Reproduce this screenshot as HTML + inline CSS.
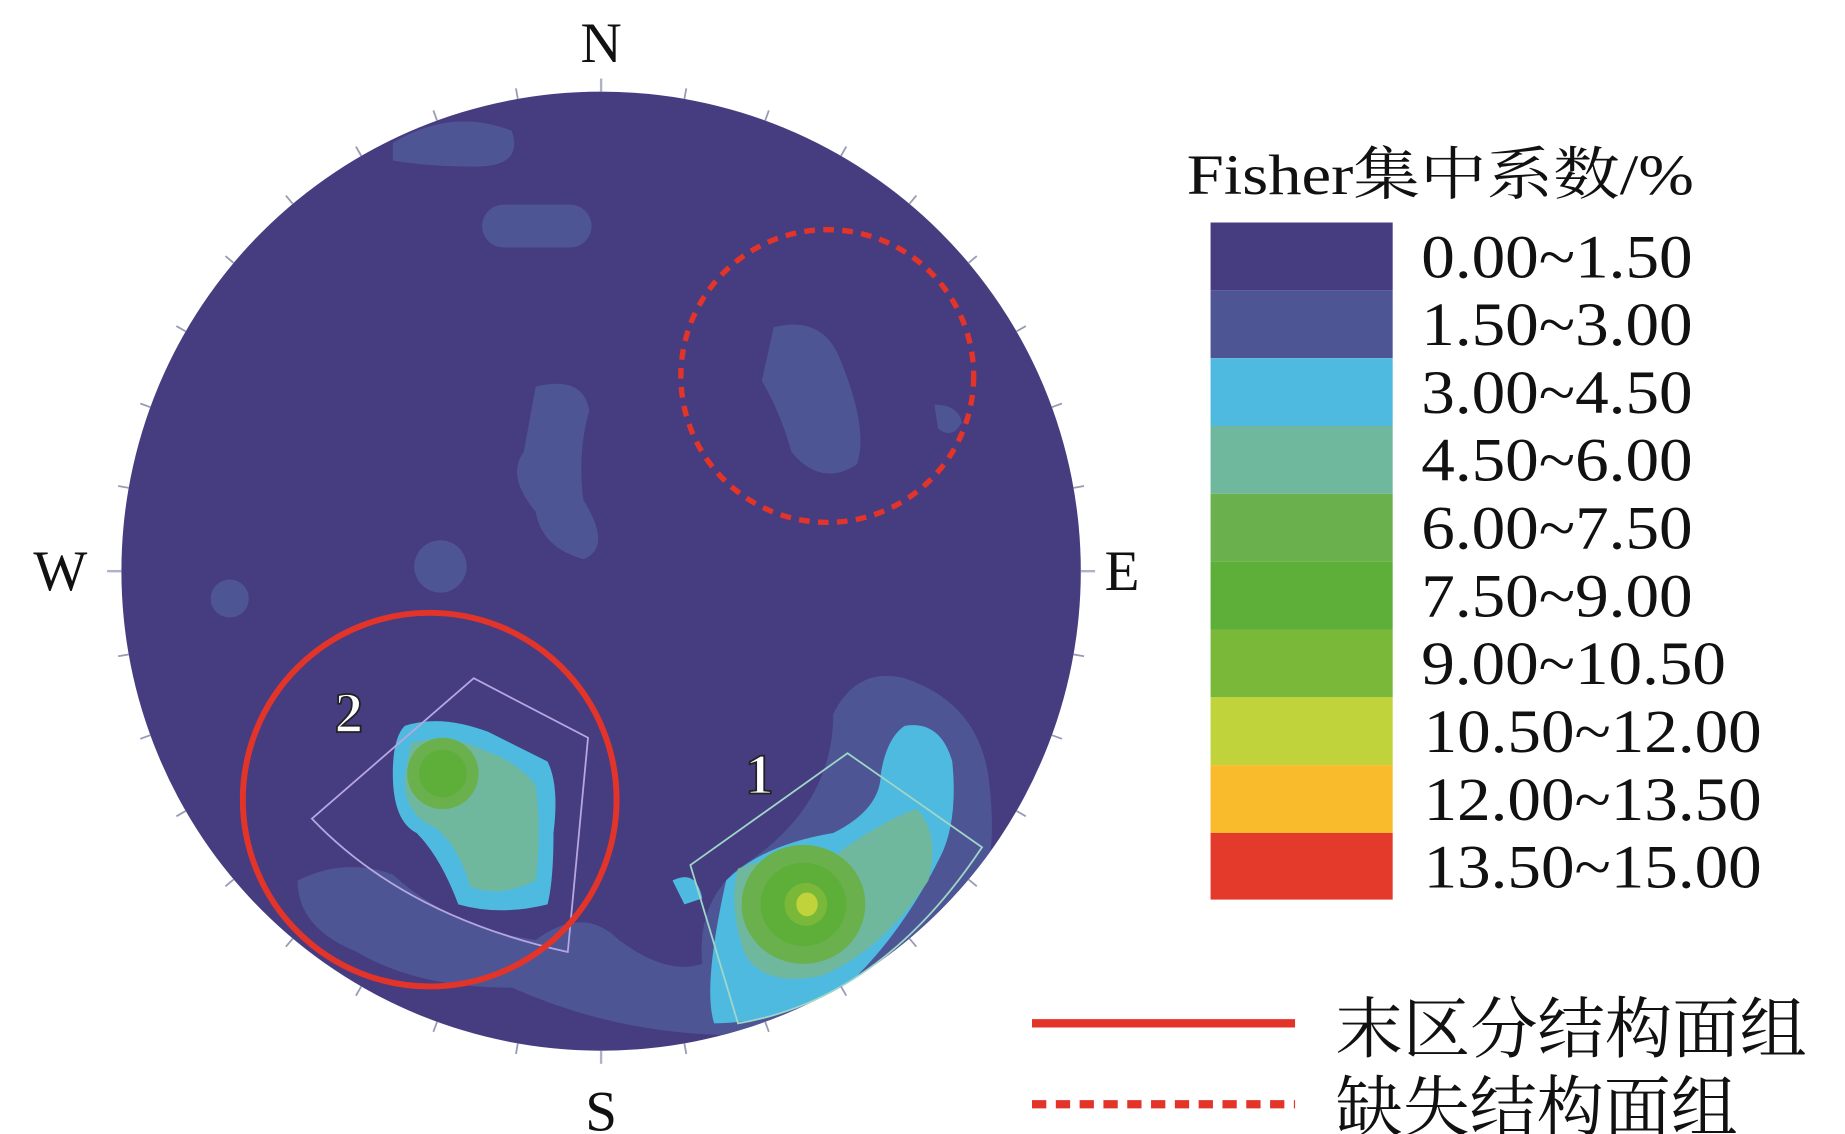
<!DOCTYPE html>
<html><head><meta charset="utf-8"><style>html,body{margin:0;padding:0;background:#fff}svg{display:block}</style></head>
<body>
<svg width="1845" height="1134" viewBox="0 0 1550 953" preserveAspectRatio="none" xmlns="http://www.w3.org/2000/svg" font-family="Liberation Serif, Noto Serif CJK SC, serif">
<rect width="1550" height="953" fill="#fff"/>
<defs><clipPath id="c"><circle cx="505" cy="480" r="403"/></clipPath></defs>
<circle cx="505" cy="480" r="403" fill="#463c80"/>
<g clip-path="url(#c)" fill="#4e5595">
<path d="M330 120 Q380 90 430 110 Q440 140 400 140 Q360 140 330 135Z"/>
<rect x="405" y="172" width="92" height="36" rx="18"/>
<path d="M450 325 Q490 315 495 345 Q485 380 490 420 Q515 460 490 470 Q455 460 450 430 Q425 400 440 380Z"/>
<path d="M650 275 Q690 265 705 300 Q730 360 720 390 Q690 410 665 380 Q655 345 640 320Z"/>
<path d="M785 340 Q805 340 808 355 Q800 370 788 360Z"/>
<circle cx="370" cy="476" r="22"/>
<circle cx="193" cy="503" r="16"/>
<path d="M250 740 Q290 720 330 735 Q380 780 450 790 Q490 760 520 790 Q560 820 590 810 Q585 760 620 730 Q700 680 700 600 Q720 560 760 570 Q820 590 830 650 Q840 720 820 760 Q760 860 620 870 Q520 870 430 830 Q350 830 300 800 Q250 780 250 740Z"/>
<path d="M760 610 Q790 605 800 640 Q805 690 790 720 Q760 780 720 820 Q660 860 600 860 Q590 830 610 740 Q640 710 700 700 Q740 680 740 650 Q745 620 760 610Z" fill="#4fbadf"/>
<path d="M565 740 Q585 730 590 755 L575 760Z" fill="#4fbadf"/>
<path d="M620 730 Q660 715 700 720 Q740 690 770 680 Q790 700 780 740 Q740 800 690 820 Q640 830 625 800 Q612 760 620 730Z" fill="#6fb89e"/>
<ellipse cx="675" cy="760" rx="52" ry="50" fill="#6ab04d"/>
<ellipse cx="675" cy="760" rx="36" ry="35" fill="#5eae3a"/>
<ellipse cx="677" cy="760" rx="18" ry="18" fill="#7ab83a"/>
<ellipse cx="678" cy="760" rx="9" ry="10" fill="#c0d33a"/>
<path d="M340 610 Q370 600 410 615 Q440 630 460 640 Q470 660 465 700 Q465 740 460 760 Q420 770 385 760 Q370 720 350 700 Q330 690 330 650 Q330 620 340 610Z" fill="#4fbadf"/>
<path d="M345 625 Q375 615 405 630 Q435 640 450 660 Q455 700 450 740 Q420 755 395 745 Q385 710 365 695 Q340 685 340 655Z" fill="#6fb89e"/>
<circle cx="372" cy="650" r="30" fill="#6ab04d"/>
<circle cx="372" cy="650" r="20" fill="#5eae3a"/>
</g>
<g fill="none" stroke-width="1.5">
<path d="M262 688 L398 570 L494 620 L477 800 Q340 770 262 688Z" stroke="#b7a6e0"/>
<path d="M580 727 L712 633 L825 712 Q740 840 620 860Z" stroke="#9fd6c8"/>
</g>
<g stroke="#b0b0c8" stroke-width="2">
<line x1="505" y1="77" x2="505" y2="66"/><line x1="505" y1="883" x2="505" y2="894"/>
<line x1="102" y1="480" x2="90" y2="480"/><line x1="908" y1="480" x2="920" y2="480"/>
</g>
<g stroke="#9a9ab5" stroke-width="1.5" id="ticks"></g>
<circle cx="361" cy="672" r="157" fill="none" stroke="#e3342a" stroke-width="5"/>
<circle cx="695" cy="316" r="123" fill="none" stroke="#e3342a" stroke-width="4.5" stroke-dasharray="9 7"/>
<g font-size="48" fill="#111">
<text x="505" y="52" text-anchor="middle">N</text>
<text x="505" y="950" text-anchor="middle">S</text>
<text x="28" y="496">W</text>
<text x="928" y="496">E</text>
</g>
<text x="293" y="615" font-size="48" fill="#fff" stroke="#222" stroke-width="1.5" text-anchor="middle" font-weight="bold">2</text>
<text x="638" y="667" font-size="48" fill="#fff" stroke="#222" stroke-width="1.5" text-anchor="middle" font-weight="bold">1</text>
<text x="997" y="163" font-size="48" fill="#111" textLength="426" lengthAdjust="spacingAndGlyphs">Fisher集中系数/%</text>
<rect x="1017" y="187" width="153" height="57" fill="#463c80"/>
<rect x="1017" y="244" width="153" height="57" fill="#4e5595"/>
<rect x="1017" y="301" width="153" height="57" fill="#4fbadf"/>
<rect x="1017" y="358" width="153" height="57" fill="#6fb89e"/>
<rect x="1017" y="415" width="153" height="57" fill="#6ab04d"/>
<rect x="1017" y="472" width="153" height="57" fill="#5eae3a"/>
<rect x="1017" y="529" width="153" height="57" fill="#7ab83a"/>
<rect x="1017" y="586" width="153" height="57" fill="#c0d33a"/>
<rect x="1017" y="643" width="153" height="57" fill="#f9bb2c"/>
<rect x="1017" y="700" width="153" height="56" fill="#e33a2b"/>
<g font-size="52" fill="#111" lengthAdjust="spacingAndGlyphs">
<text x="1194" y="233" textLength="228" lengthAdjust="spacingAndGlyphs">0.00~1.50</text>
<text x="1194" y="290" textLength="228" lengthAdjust="spacingAndGlyphs">1.50~3.00</text>
<text x="1194" y="347" textLength="228" lengthAdjust="spacingAndGlyphs">3.00~4.50</text>
<text x="1194" y="404" textLength="228" lengthAdjust="spacingAndGlyphs">4.50~6.00</text>
<text x="1194" y="461" textLength="228" lengthAdjust="spacingAndGlyphs">6.00~7.50</text>
<text x="1194" y="518" textLength="228" lengthAdjust="spacingAndGlyphs">7.50~9.00</text>
<text x="1194" y="575" textLength="256" lengthAdjust="spacingAndGlyphs">9.00~10.50</text>
<text x="1196" y="632" textLength="284" lengthAdjust="spacingAndGlyphs">10.50~12.00</text>
<text x="1196" y="689" textLength="284" lengthAdjust="spacingAndGlyphs">12.00~13.50</text>
<text x="1196" y="746" textLength="284" lengthAdjust="spacingAndGlyphs">13.50~15.00</text>
</g>
<line x1="867" y1="860" x2="1088" y2="860" stroke="#e3342a" stroke-width="7"/>
<line x1="867" y1="928" x2="1088" y2="928" stroke="#e3342a" stroke-width="7" stroke-dasharray="12 8"/>
<text x="1122" y="884" font-size="56" fill="#111" textLength="396" lengthAdjust="spacingAndGlyphs">末区分结构面组</text>
<text x="1122" y="950" font-size="56" fill="#111" textLength="338" lengthAdjust="spacingAndGlyphs">缺失结构面组</text>
<script>
var g=document.getElementById('ticks');
for(var d=0;d<360;d+=10){if(d%90==0)continue;var a=d*Math.PI/180;
var x1=505+403*Math.sin(a),y1=480-403*Math.cos(a),x2=505+412*Math.sin(a),y2=480-412*Math.cos(a);
var l=document.createElementNS('http://www.w3.org/2000/svg','line');
l.setAttribute('x1',x1);l.setAttribute('y1',y1);l.setAttribute('x2',x2);l.setAttribute('y2',y2);g.appendChild(l);}
</script>
</svg>
</body></html>
